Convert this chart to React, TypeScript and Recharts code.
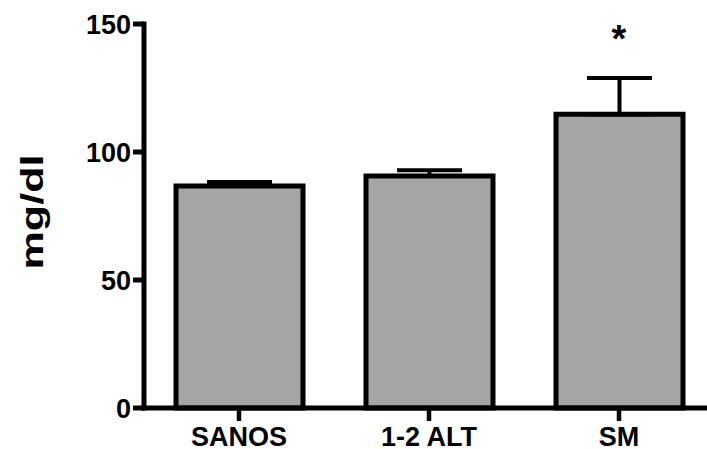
import React from 'react';
import { BarChart, Bar, XAxis, YAxis, ErrorBar, ReferenceDot } from 'recharts';

const categories = ['SANOS', '1-2 ALT', 'SM'];
const means = [86.7, 90.6, 114.7];
const sems = [1.6, 2.3, 14.2];
const marks = ['', '', '*'];
const yTicks = [0, 50, 100, 150];

const data = categories.map((name, i) => ({
  name,
  mean: means[i],
  err: [0, sems[i]],
  mark: marks[i],
}));

const FONT = '"Liberation Sans", Arial, Helvetica, sans-serif';

const YTick = (props: any) => {
  const { x, y, payload } = props;
  const s = String(payload.value);
  return (
    <text
      x={x}
      y={y}
      dy={10}
      textAnchor="end"
      fontFamily={FONT}
      fontWeight="bold"
      fontSize={27}
      fill="#000"
    >
      {s}
    </text>
  );
};

const XTick = (props: any) => {
  const { x, y, payload } = props;
  return (
    <text
      x={x}
      y={y}
      dy={23}
      textAnchor="middle"
      fontFamily={FONT}
      fontWeight="bold"
      fontSize={27}
      fill="#000"
    >
      {payload.value}
    </text>
  );
};

const YLabel = () => (
  <text
    x={43}
    y={212}
    transform="rotate(-90 43 212)"
    textAnchor="middle"
    fontFamily={FONT}
    fontWeight="bold"
    fontSize={32}
    textLength={115}
    lengthAdjust="spacingAndGlyphs"
    fill="#000"
  >
    mg/dl
  </text>
);

export default function App() {
  return (
    <div
      style={{
        position: 'absolute',
        left: 0,
        top: 0,
        width: 707,
        height: 449,
        overflow: 'hidden',
        background: '#fff',
      }}
    >
      <BarChart
        width={720}
        height={449}
        data={data}
        margin={{ top: 24, right: 6, bottom: 0, left: 0 }}
      >
        <XAxis
          dataKey="name"
          type="category"
          height={41}
          axisLine={{ stroke: '#000', strokeWidth: 5, strokeLinecap: 'square' }}
          tickLine={{ stroke: '#000', strokeWidth: 4.5 }}
          tickSize={13}
          tick={<XTick />}
          interval={0}
        />
        <YAxis
          width={144}
          domain={[0, 150]}
          ticks={yTicks}
          interval={0}
          axisLine={{ stroke: '#000', strokeWidth: 5, strokeLinecap: 'square' }}
          tickLine={{ stroke: '#000', strokeWidth: 5 }}
          tickSize={11}
          tick={<YTick />}
          label={{ content: () => <YLabel /> }}
        />
        <Bar
          dataKey="mean"
          fill="#a5a5a5"
          stroke="#000"
          strokeWidth={5}
          barSize={127}
          isAnimationActive={false}
        >
          <ErrorBar
            dataKey="err"
            width={32.5}
            strokeWidth={4}
            stroke="#000"
            direction="y"
            isAnimationActive={false}
          />
        </Bar>
        {data
          .filter((d) => d.mark)
          .map((d) => (
            <ReferenceDot
              key={d.name}
              x={d.name}
              y={d.mean + d.err[1]}
              r={0}
              shape={(p: any) => (
                <text
                  x={p.cx}
                  y={p.cy - 26}
                  textAnchor="middle"
                  fontFamily={FONT}
                  fontWeight="bold"
                  fontSize={38}
                  fill="#000"
                >
                  {d.mark}
                </text>
              )}
            />
          ))}
      </BarChart>
    </div>
  );
}
